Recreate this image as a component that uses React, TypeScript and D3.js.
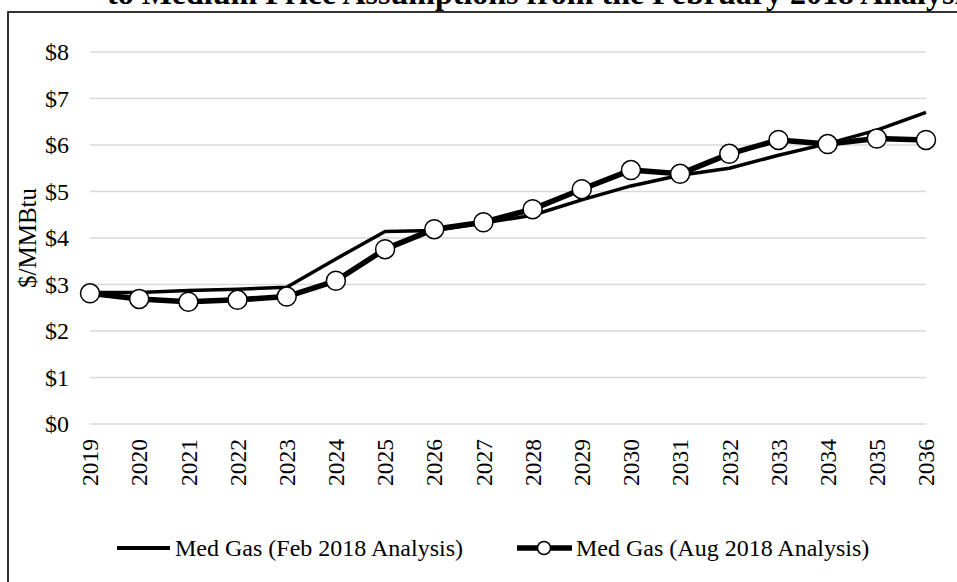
import React from 'react';
import { scaleLinear, scalePoint, line } from 'd3';

const years = ['2019', '2020', '2021', '2022', '2023', '2024', '2025', '2026', '2027', '2028', '2029', '2030', '2031', '2032', '2033', '2034', '2035', '2036'];
// Med Gas (Feb 2018 Analysis)
const febValues = [2.83, 2.83, 2.87, 2.9, 2.94, 3.55, 4.14, 4.16, 4.32, 4.49, 4.82, 5.12, 5.35, 5.5, 5.78, 6.03, 6.32, 6.7];
// Med Gas (Aug 2018 Analysis)
const augValues = [2.81, 2.69, 2.63, 2.67, 2.74, 3.08, 3.76, 4.19, 4.34, 4.62, 5.05, 5.46, 5.38, 5.81, 6.11, 6.02, 6.14, 6.11];
const yTicks = [0, 1, 2, 3, 4, 5, 6, 7, 8];
const seriesNames = ['Med Gas (Feb 2018 Analysis)', 'Med Gas (Aug 2018 Analysis)'];

const W = 957;
const H = 582;
const font = '"Liberation Serif", "Times New Roman", serif';

const App = () => {
  const x = scalePoint<string>().domain(years).range([90, 926]);
  const y = scaleLinear().domain([0, 8]).range([424, 52]);

  const path = line<number>()
    .x((d, i) => x(years[i]) as number)
    .y((d) => y(d));

  return (
    <svg width={W} height={H} style={{ position: 'absolute', left: 0, top: 0 }} fontFamily={font}>
      <rect x={0} y={0} width={W} height={H} fill="#fff" />
      {/* title, only its lower part shows above the frame */}
      <text x={107} y={4} fontSize={32} fontWeight="bold" fill="#000">
        to Medium Price Assumptions from the February 2018 Analysis
      </text>
      <rect x={8} y={12} width={1000} height={700} fill="#fff" stroke="#000" strokeWidth={1.6} />

      {/* gridlines */}
      {yTicks.map((t) => (
        <line key={t} x1={90} x2={926} y1={y(t)} y2={y(t)} stroke="#d9d9d9" strokeWidth={1.5} />
      ))}
      {/* y tick labels */}
      {yTicks.map((t) => (
        <text key={'yl' + t} x={69} y={y(t)} dy="0.35em" textAnchor="end" fontSize={24} fill="#000">
          ${t}
        </text>
      ))}
      <text transform={`translate(27,${(y(0) + y(8)) / 2}) rotate(-90)`} textAnchor="middle" dy="0.35em" fontSize={25} fill="#000">
        $/MMBtu
      </text>

      {/* x tick labels */}
      {years.map((yr) => (
        <text key={yr} transform={`translate(${x(yr)},439) rotate(-90)`} textAnchor="end" dy="0.35em" fontSize={23.5} fill="#000">
          {yr}
        </text>
      ))}

      {/* series */}
      <path d={path(febValues) || ''} fill="none" stroke="#000" strokeWidth={3.5} strokeLinejoin="round" />
      <path d={path(augValues) || ''} fill="none" stroke="#000" strokeWidth={5.5} strokeLinejoin="round" />
      {augValues.map((v, i) => (
        <circle key={i} cx={x(years[i])} cy={y(v)} r={9.5} fill="#fff" stroke="#000" strokeWidth={1.5} />
      ))}

      {/* legend */}
      <line x1={117} x2={170} y1={548} y2={548} stroke="#000" strokeWidth={4} />
      <text x={175} y={556} fontSize={24} fill="#000">{seriesNames[0]}</text>
      <line x1={517} x2={572} y1={548} y2={548} stroke="#000" strokeWidth={5.5} />
      <circle cx={544} cy={548} r={6.5} fill="#fff" stroke="#000" strokeWidth={1.5} />
      <text x={576} y={556} fontSize={24} fill="#000">{seriesNames[1]}</text>
    </svg>
  );
};

export default App;
